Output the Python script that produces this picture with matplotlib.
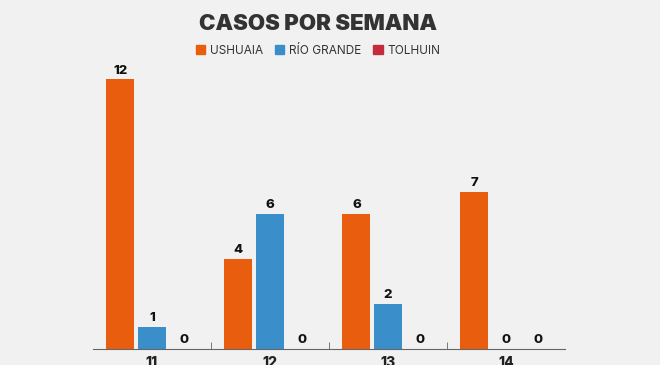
import matplotlib
matplotlib.use('Agg')
import matplotlib.pyplot as plt
import numpy as np
from matplotlib.patches import Patch

# datos
semanas = ['11', '12', '13', '14']
ushuaia = [12, 4, 6, 7]
rio_grande = [1, 6, 2, 0]
tolhuin = [0, 0, 0, 0]
series = ['USHUAIA', 'RÍO GRANDE', 'TOLHUIN']
colores = ['#E85E0E', '#3A8FCB', '#C62B3D']

plt.rcParams['font.family'] = ['Inter', 'DejaVu Sans']

fig = plt.figure(figsize=(6.6, 3.65), dpi=100, facecolor='#F1F1F1')
ax = fig.add_axes([93 / 660, 16 / 365, 472 / 660, 292 / 365])
ax.set_facecolor('#F1F1F1')

x = np.arange(len(semanas))
paso, ancho = 0.268, 0.237
for i, (vals, col) in enumerate(zip([ushuaia, rio_grande, tolhuin], colores)):
    pos = x + (i - 1) * paso
    ax.bar(pos, vals, width=ancho, color=col)
    for px, v in zip(pos, vals):
        ax.annotate(str(v), (px, v), xytext=(0, 2), textcoords='offset points',
                    ha='center', va='bottom', fontsize=9.5, fontweight='heavy',
                    color='#111111')

ax.set_xlim(-0.5, 3.5)
ax.set_ylim(0, 13)
for s in ['top', 'right', 'left']:
    ax.spines[s].set_visible(False)
ax.spines['bottom'].set_color('#666666')
ax.set_yticks([])

ax.set_xticks(x)
ax.set_xticklabels(semanas, fontsize=10, fontweight='heavy', color='#222222')
ax.tick_params(axis='x', which='major', length=0, pad=5)
ax.set_xticks(x[:-1] + 0.5, minor=True)
ax.tick_params(axis='x', which='minor', direction='in', length=5, color='#666666')

fig.text(318 / 660, 1 - 24 / 365, 'CASOS POR SEMANA', ha='center', va='center',
         fontsize=16, fontweight='black', color='#333333')

handles = [Patch(color=c, label=s) for c, s in zip(colores, series)]
fig.legend(handles=handles, loc='center', bbox_to_anchor=(318 / 660, 1 - 51 / 365),
           ncol=3, frameon=False, fontsize=8.5, handlelength=0.8, handleheight=0.8,
           handletextpad=0.4, columnspacing=1.0, labelcolor='#333333')

fig.savefig('out.png', dpi=100, facecolor=fig.get_facecolor())
